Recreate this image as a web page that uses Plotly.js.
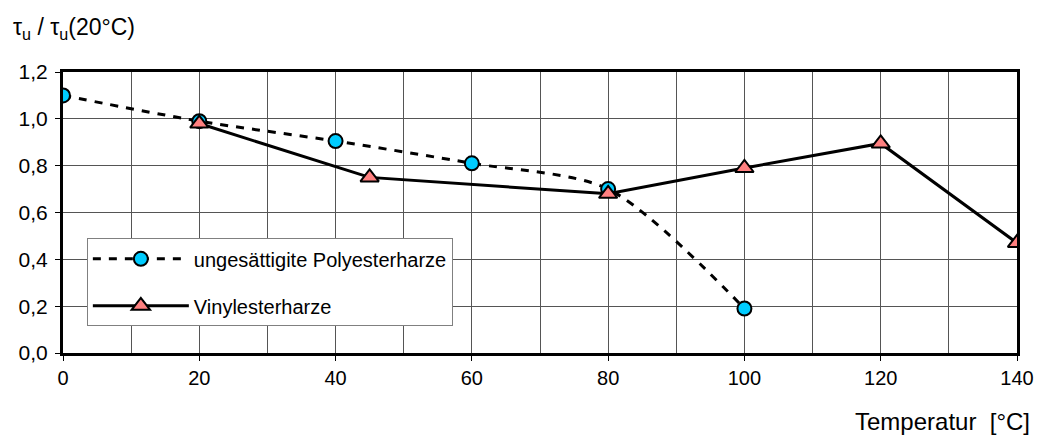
<!DOCTYPE html>
<html>
<head>
<meta charset="utf-8">
<script src="https://cdn.plot.ly/plotly-3.0.1.min.js"></script>
<style>html,body{margin:0;padding:0;background:#fff;}#chart{width:1048px;height:439px;}</style>
</head>
<body>
<div id="chart"></div>
<script>
// Data
const polyTemp = [0, 20, 40, 60, 80, 100];
const polyRatio = [1.10, 0.99, 0.905, 0.81, 0.70, 0.19];
const vinylTemp = [20, 45, 80, 100, 120, 140];
const vinylRatio = [0.98, 0.75, 0.68, 0.79, 0.895, 0.47];
const seriesNames = ['ungesättigite Polyesterharze', 'Vinylesterharze'];
const xTicks = [0, 20, 40, 60, 80, 100, 120, 140];
const yTicks = [0, 0.2, 0.4, 0.6, 0.8, 1.0, 1.2];
const yTitle = 'τ<sub>u</sub> / τ<sub>u</sub>(20°C)';
const xTitle = 'Temperatur&nbsp;&nbsp;[°C]';

const FONT = 'Liberation Sans, Arial, sans-serif';

const traces = [
  {
    x: polyTemp, y: polyRatio, name: seriesNames[0], type: 'scatter', mode: 'lines+markers',
    legendgroup: 'a',
    line: {color: '#000', width: 3, dash: '8px,8px', shape: 'spline', smoothing: 0.8},
    marker: {symbol: 'circle', size: 14, color: '#00CCFF', line: {color: '#000', width: 2}}
  },
  {
    x: vinylTemp, y: vinylRatio, name: seriesNames[1], type: 'scatter', mode: 'lines+markers',
    legendgroup: 'b',
    line: {color: '#000', width: 3},
    marker: {symbol: 'triangle-up', size: 16, color: '#FF8080', line: {color: '#000', width: 2}}
  }
];

const layout = {
  width: 1048, height: 439,
  margin: {l: 63, r: 31, t: 72, b: 86, pad: 0},
  paper_bgcolor: '#fff', plot_bgcolor: '#fff',
  separators: ', ',
  font: {family: FONT, size: 20, color: '#000'},
  showlegend: true,
  legend: {
    x: 0.025, y: 0.408, xanchor: 'left', yanchor: 'top',
    bgcolor: '#fff', bordercolor: '#808080', borderwidth: 1,
    font: {family: FONT, size: 20, color: '#000'},
    itemwidth: 96, tracegroupgap: 18, traceorder: 'grouped'
  },
  xaxis: {
    range: [0, 140], tickvals: xTicks, ticktext: xTicks.map(String),
    showline: true, linecolor: '#000', linewidth: 3, mirror: true,
    ticks: 'outside', ticklen: 5, tickwidth: 1, tickcolor: '#000',
    showgrid: true, gridcolor: '#555', gridwidth: 1,
    minor: {dtick: 10, showgrid: true, gridcolor: '#555', gridwidth: 1, ticks: ''},
    zeroline: false, fixedrange: true,
    tickfont: {family: FONT, size: 20, color: '#000'}
  },
  yaxis: {
    range: [0, 1.2], tickvals: yTicks, tickformat: '.1f',
    showline: true, linecolor: '#000', linewidth: 3, mirror: true,
    ticks: 'outside', ticklen: 5, tickwidth: 1, tickcolor: '#000',
    ticklabelstandoff: 3,
    showgrid: true, gridcolor: '#555', gridwidth: 1,
    zeroline: false, fixedrange: true,
    tickfont: {family: FONT, size: 21, color: '#000'}
  },
  annotations: [
    {text: yTitle, xref: 'paper', yref: 'paper', x: -0.054, y: 1.155, xanchor: 'left', yanchor: 'middle',
     showarrow: false, font: {family: FONT, size: 23, color: '#000'}},
    {text: xTitle, xref: 'paper', yref: 'paper', x: 1.016, y: -0.245, xanchor: 'right', yanchor: 'middle',
     showarrow: false, font: {family: FONT, size: 24, color: '#000'}}
  ]
};

Plotly.newPlot('chart', traces, layout, {displayModeBar: false, staticPlot: true});
</script>
</body>
</html>
